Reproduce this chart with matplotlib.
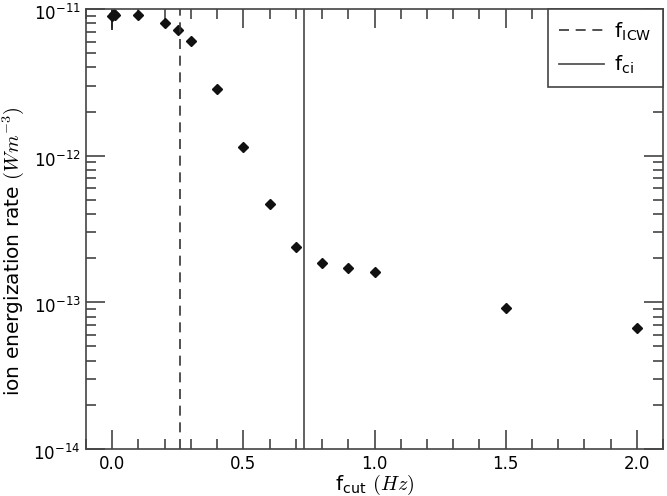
import matplotlib
matplotlib.use("Agg")
import matplotlib.pyplot as plt
import matplotlib.transforms as mtransforms
from matplotlib.ticker import LogLocator, MultipleLocator, NullFormatter, LogFormatterSciNotation

plt.rcParams['mathtext.fontset'] = 'cm'
plt.rcParams['font.family'] = ['DejaVu Sans']

# data
f_cut = [0.0, 0.005, 0.01, 0.1, 0.2, 0.25, 0.3, 0.4, 0.5, 0.6, 0.7, 0.8, 0.9, 1.0, 1.5, 2.0]
rate = [8.9e-12, 9.3e-12, 9.1e-12, 9.06e-12, 7.98e-12, 7.19e-12, 6.03e-12, 2.87e-12,
        1.14e-12, 4.69e-13, 2.38e-13, 1.84e-13, 1.72e-13, 1.61e-13, 9.2e-14, 6.73e-14]
err_x = [0.0]
err_y = [8.5e-12]
err_val = [1.3e-12]
y_major = [1e-14, 1e-13, 1e-12, 1e-11]
f_icw = 0.257
f_ci = 0.730

fig = plt.figure(figsize=(6.67, 4.96), dpi=100)
ax = fig.add_axes([0.129, 0.0948, 0.865, 0.887])

ax.errorbar(err_x, err_y, yerr=err_val, fmt='none', ecolor='#222222', elinewidth=1.3, capsize=0)
ax.plot(f_cut, rate, linestyle='none', marker='D', ms=5, color='#111111')

ax.axvline(f_icw, color='#333333', lw=1.2, dashes=(6, 4), label=r'f$_{\mathregular{ICW}}$')
ax.axvline(f_ci, color='#555555', lw=1.3, label=r'f$_{\mathregular{ci}}$')

ax.set_yscale('log')
ax.set_xlim(-0.1, 2.1)
ax.set_ylim(1e-14, 1e-11)
ax.xaxis.set_major_locator(MultipleLocator(0.5))
ax.xaxis.set_minor_locator(MultipleLocator(0.1))
ax.set_yticks(y_major)
ax.yaxis.set_major_formatter(LogFormatterSciNotation())
ax.yaxis.set_minor_locator(LogLocator(base=10, subs=range(2, 10), numticks=20))
ax.yaxis.set_minor_formatter(NullFormatter())

spine_c = '#444444'
for s in ax.spines.values():
    s.set_color(spine_c)
    s.set_linewidth(1.2)
ax.tick_params(which='both', direction='in', top=True, right=True, color=spine_c, width=1.2,
               labelsize=12)
ax.tick_params(which='major', length=14)
ax.tick_params(which='minor', length=7)
ax.tick_params(axis='x', pad=4)
ax.tick_params(axis='y', pad=4)

# shift y tick labels slightly down, as in the reference
offset = mtransforms.ScaledTranslation(0, -2.0 / 72, fig.dpi_scale_trans)
for lab in ax.get_yticklabels(which='major'):
    lab.set_transform(lab.get_transform() + offset)

ax.set_xlabel(r'f$_{\mathregular{cut}}$ $(Hz)$', fontsize=14.5, labelpad=0)
ax.set_ylabel(r'ion energization rate $(Wm^{-3})$', fontsize=14.5)
ax.yaxis.set_label_coords(-0.104, 0.45)

leg = ax.legend(loc='upper right', fontsize=14.5, borderaxespad=0, fancybox=False,
                handlelength=2.25, handletextpad=0.5, borderpad=0.55, labelspacing=0.55,
                framealpha=1)
leg.get_frame().set_edgecolor(spine_c)
leg.get_frame().set_linewidth(1.2)

fig.savefig('out.png', dpi=100)
